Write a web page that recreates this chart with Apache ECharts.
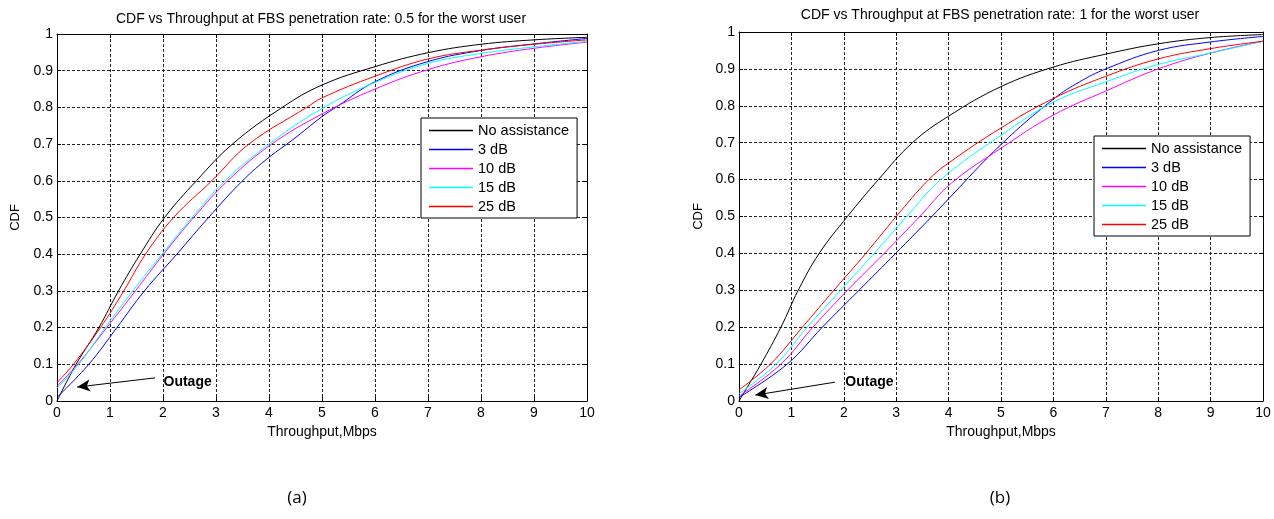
<!DOCTYPE html>
<html>
<head>
<meta charset="utf-8">
<title>CDF vs Throughput</title>
<script src="https://cdn.jsdelivr.net/npm/echarts/dist/echarts.min.js"></script>
<style>
  html, body { margin: 0; padding: 0; background: #fff; }
  #main { width: 1274px; height: 519px; }
</style>
</head>
<body>
<div id="main"></div>
<script>
// legend names and MATLAB line colours
const names = ['No assistance', '3 dB', '10 dB', '15 dB', '25 dB'];
const colors = ['#000000', '#0000ff', '#ff00ff', '#00ffff', '#ff0000'];

// (a) FBS penetration rate 0.5 -> [throughput (Mbps), CDF]
const aNoAssist = [[0, 0], [0.36, 0.1], [0.79, 0.2], [1.16, 0.3], [1.57, 0.4], [2.03, 0.5], [2.63, 0.6], [3.31, 0.7], [4.25, 0.8], [5, 0.861], [6, 0.911], [7, 0.949], [8, 0.972], [9, 0.984], [10, 0.991]];
const a3dB = [[0, 0.01], [0.6, 0.1], [1.13, 0.2], [1.65, 0.3], [2.26, 0.4], [2.86, 0.5], [3.5, 0.6], [4, 0.664], [4.45, 0.712], [5, 0.775], [5.28, 0.802], [6, 0.87], [7, 0.925], [8, 0.955], [9, 0.973], [10, 0.988]];
const a10dB = [[0, 0.04], [0.39, 0.1], [0.94, 0.2], [1.48, 0.3], [2.01, 0.4], [2.58, 0.5], [3.22, 0.6], [4.05, 0.7], [5, 0.782], [6, 0.85], [7, 0.903], [8, 0.938], [9, 0.961], [10, 0.978]];
const a15dB = [[0, 0.035], [0.41, 0.1], [0.91, 0.2], [1.43, 0.3], [1.98, 0.4], [2.55, 0.5], [3.17, 0.6], [4, 0.7], [5, 0.797], [6, 0.868], [7, 0.92], [8, 0.947], [9, 0.965], [10, 0.98]];
const a25dB = [[0, 0.05], [0.31, 0.1], [0.82, 0.2], [1.26, 0.3], [1.67, 0.4], [2.2, 0.5], [2.92, 0.6], [3.62, 0.7], [4.71, 0.8], [5, 0.826], [6, 0.885], [7, 0.932], [8, 0.956], [9, 0.972], [10, 0.984]];

// (b) FBS penetration rate 1
const bNoAssist = [[0, 0], [0.19, 0.045], [0.42, 0.1], [0.8, 0.2], [1.13, 0.3], [1.53, 0.4], [2.07, 0.5], [2.66, 0.6], [3.31, 0.7], [4, 0.772], [5, 0.852], [6, 0.905], [7, 0.94], [8, 0.968], [9, 0.985], [10, 0.993]];
const b3dB = [[0, 0.01], [0.92, 0.1], [1.59, 0.2], [2.29, 0.3], [2.99, 0.4], [3.68, 0.5], [4, 0.548], [5, 0.695], [6, 0.818], [6.5, 0.865], [7, 0.9], [8, 0.95], [9, 0.973], [10, 0.988]];
const b10dB = [[0, 0.013], [0.8, 0.1], [1.41, 0.2], [2.07, 0.3], [2.77, 0.4], [3.45, 0.5], [4.05, 0.59], [5, 0.685], [6, 0.775], [7, 0.84], [8, 0.9], [9, 0.943], [10, 0.975]];
const b15dB = [[0, 0.02], [0.71, 0.1], [1.3, 0.2], [1.94, 0.3], [2.58, 0.4], [3.2, 0.5], [3.85, 0.6], [5, 0.72], [6, 0.81], [7, 0.865], [8, 0.912], [9, 0.943], [10, 0.975]];
const b25dB = [[0, 0.03], [0.6, 0.1], [1.21, 0.2], [1.81, 0.3], [2.42, 0.4], [3, 0.5], [3.62, 0.6], [4, 0.645], [5, 0.74], [6, 0.82], [7, 0.88], [8, 0.927], [9, 0.955], [10, 0.975]];

// "Outage" arrow: [tail, head, text position] in data units
const aOutage = [[1.85, 0.063], [0.38, 0.038], [2.0, 0.052]];
const bOutage = [[1.83, 0.051], [0.31, 0.016], [2.02, 0.052]];

const font = 'Liberation Sans, Arial, sans-serif';
const chart = echarts.init(document.getElementById('main'));

function xAxis(grid, pos) {
  const main = pos === 'bottom';
  return {
    type: 'value', gridIndex: grid, position: pos, min: 0, max: 10, interval: 1,
    name: main ? 'Throughput,Mbps' : '', nameLocation: 'middle', nameGap: 17,
    nameTextStyle: { fontFamily: font, fontSize: 14, color: '#000' },
    axisLine: { show: true, onZero: false, lineStyle: { color: '#000', width: 1 } },
    axisTick: { show: true, inside: true, length: 4, lineStyle: { color: '#000' } },
    axisLabel: { show: main, margin: 5, fontFamily: font, fontSize: 14, color: '#000' },
    splitLine: main ? { show: true, lineStyle: { color: '#222', type: [3, 2], width: 1 } } : { show: false }
  };
}

function yAxis(grid, pos, gap) {
  const main = pos === 'left';
  return {
    type: 'value', gridIndex: grid, position: pos, min: 0, max: 1, interval: 0.1,
    name: main ? 'CDF' : '', nameLocation: 'middle', nameGap: gap,
    nameTextStyle: { fontFamily: font, fontSize: 13, color: '#000' },
    axisLine: { show: true, onZero: false, lineStyle: { color: '#000', width: 1 } },
    axisTick: { show: true, inside: true, length: 4, lineStyle: { color: '#000' } },
    axisLabel: {
      show: main, margin: 4, fontFamily: font, fontSize: 14, color: '#000',
      formatter: v => String(Number(v.toFixed(1)))
    },
    splitLine: main ? { show: true, lineStyle: { color: '#222', type: [3, 2], width: 1 } } : { show: false }
  };
}

function outageMarks(o) {
  return {
    markLine: {
      silent: true, animation: false,
      symbol: ['none', 'arrow'], symbolSize: [9, 13],
      lineStyle: { color: '#000', width: 1, type: 'solid' },
      label: { show: false },
      data: [[{ coord: o[0] }, { coord: o[1] }]]
    },
    markPoint: {
      silent: true, animation: false,
      symbol: 'circle', symbolSize: 1, itemStyle: { color: 'rgba(0,0,0,0)' },
      label: {
        show: true, position: 'right', distance: 0, formatter: 'Outage',
        fontFamily: font, fontSize: 14, fontWeight: 'bold', color: '#000'
      },
      data: [{ coord: o[2] }]
    }
  };
}

function lineSeries(data, i, grid, marks) {
  const s = {
    name: names[i], type: 'line', data: data,
    xAxisIndex: grid, yAxisIndex: grid,
    showSymbol: false, smooth: 0.4,
    color: colors[i], lineStyle: { width: 1, color: colors[i] },
    z: 2 + i
  };
  return marks ? Object.assign(s, marks) : s;
}

function legend(left, top) {
  return {
    orient: 'vertical', left: left, top: top, selectedMode: false,
    backgroundColor: '#fff', borderColor: '#000', borderWidth: 1,
    padding: [5, 8, 4, 8], itemWidth: 44, itemHeight: 1.5, itemGap: 4,
    icon: 'rect',
    textStyle: { fontFamily: font, fontSize: 14.5, color: '#000', lineHeight: 14 },
    data: names
  };
}

const option = {
  animation: false,
  backgroundColor: '#fff',
  title: [
    { text: 'CDF vs Throughput at FBS penetration rate: 0.5 for the worst user', left: 321, top: 12, textAlign: 'center', padding: 0,
      textStyle: { fontFamily: font, fontSize: 14, fontWeight: 'normal', color: '#000' } },
    { text: 'CDF vs Throughput at FBS penetration rate: 1 for the worst user', left: 1000, top: 8, textAlign: 'center', padding: 0,
      textStyle: { fontFamily: font, fontSize: 14, fontWeight: 'normal', color: '#000' } },
    { text: '(a)', left: 297, top: 490, textAlign: 'center', padding: 0,
      textStyle: { fontFamily: 'Open Sans, Noto Sans, sans-serif', fontSize: 17, fontWeight: 'normal', color: '#000' } },
    { text: '(b)', left: 1000, top: 490, textAlign: 'center', padding: 0,
      textStyle: { fontFamily: 'Open Sans, Noto Sans, sans-serif', fontSize: 17, fontWeight: 'normal', color: '#000' } }
  ],
  legend: [legend(421, 118), legend(1094, 136)],
  grid: [
    { left: 57, top: 34, width: 530, height: 367 },
    { left: 739, top: 32, width: 524, height: 369 }
  ],
  xAxis: [xAxis(0, 'bottom'), xAxis(1, 'bottom'), xAxis(0, 'top'), xAxis(1, 'top')],
  yAxis: [yAxis(0, 'left', 35), yAxis(1, 'left', 34), yAxis(0, 'right', 0), yAxis(1, 'right', 0)],
  series: [
    lineSeries(aNoAssist, 0, 0, outageMarks(aOutage)),
    lineSeries(a3dB, 1, 0),
    lineSeries(a10dB, 2, 0),
    lineSeries(a15dB, 3, 0),
    lineSeries(a25dB, 4, 0),
    lineSeries(bNoAssist, 0, 1, outageMarks(bOutage)),
    lineSeries(b3dB, 1, 1),
    lineSeries(b10dB, 2, 1),
    lineSeries(b15dB, 3, 1),
    lineSeries(b25dB, 4, 1)
  ]
};

chart.setOption(option);
</script>
</body>
</html>
